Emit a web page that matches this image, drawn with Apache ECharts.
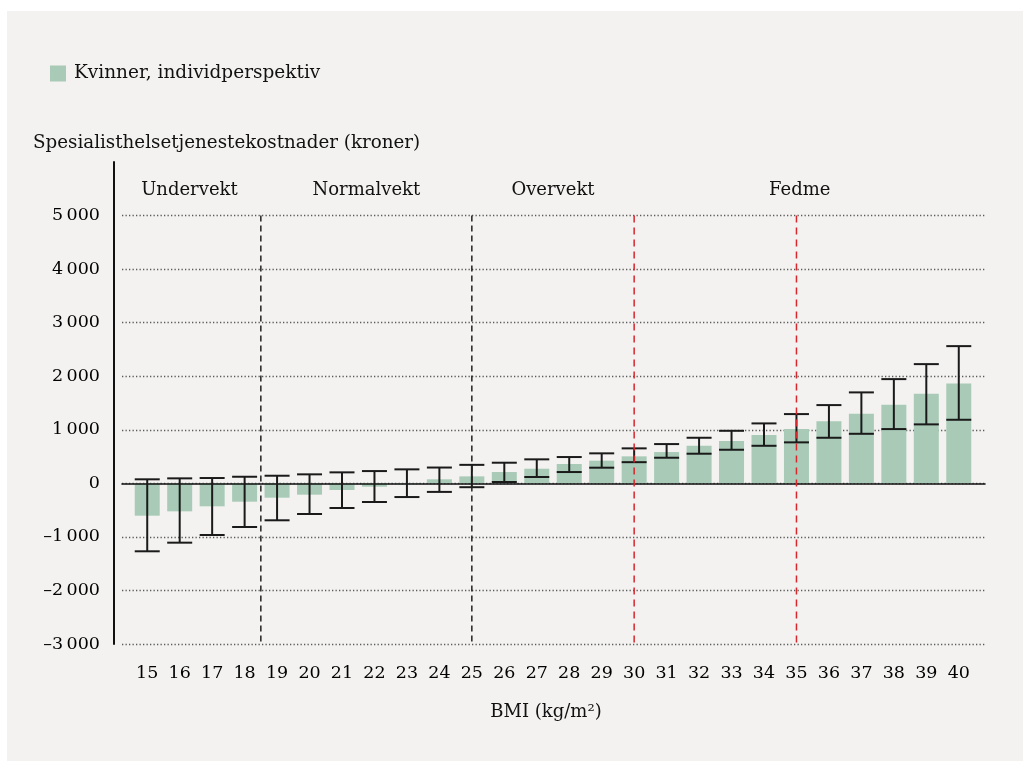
<!DOCTYPE html>
<html>
<head>
<meta charset="utf-8">
<script src="https://cdn.jsdelivr.net/npm/echarts@6/dist/echarts.min.js"></script>
<style>
html,body{margin:0;padding:0;background:#fff;}
#chart{width:1023px;height:762px;}
</style>
</head>
<body>
<div id="chart"></div>
<script>
// ---- data ----
var bmiCategories = ['15','16','17','18','19','20','21','22','23','24','25','26','27','28','29','30','31','32','33','34','35','36','37','38','39','40'];
var meanCost = [-604,-523,-429,-343,-268,-212,-125,-63,-15,75,130,211,273,361,423,504,584,701,789,901,1013,1157,1299,1467,1672,1866];
var lowerCI  = [-1269,-1108,-965,-815,-690,-573,-461,-349,-256,-160,-72,25,118,211,292,395,478,553,627,701,765,851,925,1013,1101,1187];
var upperCI  = [75,93,99,123,142,168,205,229,261,295,345,385,448,491,560,653,733,851,981,1119,1293,1461,1698,1946,2226,2562];
var yTicks = [-3000,-2000,-1000,0,1000,2000,3000,4000,5000];
var yTickLabels = ['\u20133\u2009000','\u20132\u2009000','\u20131\u2009000','0','1\u2009000','2\u2009000','3\u2009000','4\u2009000','5\u2009000'];
var dividerBmi = [18.5,25,30,35];
var regionNames = ['Undervekt','Normalvekt','Overvekt','Fedme'];
var regionCenters = [16.3,21.75,27.5,35.1];
var regionLabelY = 5470;
var seriesName = 'Kvinner, individperspektiv';
var yTitle = 'Spesialisthelsetjenestekostnader (kroner)';
var xTitle = 'BMI (kg/m\u00b2)';

var FONT = 'DejaVu Serif';
var TXT = '#111111';

var chart = echarts.init(document.getElementById('chart'));

var gridLineColors = yTicks.map(function(){return '#5a5a5a';}).concat(['rgba(0,0,0,0)']);

var option = {
  backgroundColor: '#ffffff',
  animation: false,
  graphic: [{
    type: 'rect', left: 7, top: 11, z: -100,
    shape: {width: 1016, height: 750},
    style: {fill: '#f3f2f0'}
  }],
  title: {
    text: yTitle, left: 33, top: 134, padding: 0,
    textStyle: {fontFamily: FONT, fontSize: 18.3, fontWeight: 'normal', color: TXT}
  },
  legend: {
    data: [seriesName], left: 50, top: 64, icon: 'rect', padding: 0,
    itemWidth: 16, itemHeight: 16,
    textStyle: {fontFamily: FONT, fontSize: 18.5, color: TXT, padding: [0,0,0,3]}
  },
  grid: [
    {left: 131, right: 48, top: 162, bottom: 118, containLabel: false},
    {left: 122, right: 38, top: 162, bottom: 118, containLabel: false}
  ],
  xAxis: [
    {
      type: 'category', gridIndex: 0, data: bmiCategories,
      axisLine: {show: false}, axisTick: {show: false},
      axisLabel: {margin: 20, fontFamily: FONT, fontSize: 17.5, color: '#000', interval: 0},
      name: xTitle, nameLocation: 'middle', nameGap: 59,
      nameTextStyle: {fontFamily: FONT, fontSize: 18, color: TXT, padding: [0,14,0,0]}
    },
    {
      type: 'value', gridIndex: 1, min: 0, max: 1, z: 3,
      axisLine: {show: true, onZero: true, lineStyle: {color: '#111', width: 1.6}},
      axisTick: {show: false}, axisLabel: {show: false}, splitLine: {show: false}
    },
    {
      type: 'value', gridIndex: 0, min: 14.5, max: 40.5, show: false
    }
  ],
  yAxis: [
    {
      type: 'value', gridIndex: 0, min: -3000, max: 6000, interval: 1000, offset: 17,
      axisLine: {show: true, lineStyle: {color: '#111', width: 2}},
      axisTick: {show: false}, splitLine: {show: false},
      axisLabel: {
        margin: 14, fontFamily: FONT, fontSize: 17.5, color: '#000',
        formatter: function(v){ var i = yTicks.indexOf(v); return i >= 0 ? yTickLabels[i] : ''; }
      }
    },
    {
      type: 'value', gridIndex: 1, min: -3000, max: 6000, interval: 1000,
      axisLine: {show: false}, axisTick: {show: false}, axisLabel: {show: false},
      splitLine: {show: true, lineStyle: {color: gridLineColors, width: 1.3, type: [1.3, 2.2]}}
    }
  ],
  series: [
    {
      name: seriesName, type: 'bar', xAxisIndex: 0, yAxisIndex: 0,
      data: meanCost, barWidth: 25,
      itemStyle: {color: '#a8cab6'}, z: 2
    },
    {
      name: 'ci', type: 'custom', xAxisIndex: 0, yAxisIndex: 0, z: 4,
      data: bmiCategories.map(function(c, i){ return [i, lowerCI[i], upperCI[i]]; }),
      encode: {x: 0, y: [1, 2]},
      renderItem: function(params, api){
        var x = api.value(0), lo = api.value(1), hi = api.value(2);
        var p1 = api.coord([x, hi]), p2 = api.coord([x, lo]);
        var hw = 12.5, st = {stroke: '#1a1a1a', lineWidth: 2};
        return {type: 'group', children: [
          {type: 'line', shape: {x1: p1[0], y1: p1[1], x2: p2[0], y2: p2[1]}, style: st},
          {type: 'line', shape: {x1: p1[0]-hw, y1: p1[1], x2: p1[0]+hw, y2: p1[1]}, style: st},
          {type: 'line', shape: {x1: p2[0]-hw, y1: p2[1], x2: p2[0]+hw, y2: p2[1]}, style: st}
        ]};
      }
    },
    {
      name: 'dividers', type: 'custom', xAxisIndex: 2, yAxisIndex: 0, z: 5,
      data: dividerBmi.map(function(b){ return [b]; }),
      renderItem: function(params, api){
        var b = api.value(0);
        var top = api.coord([b, 5000]), bot = api.coord([b, -3000]);
        var red = b >= 30;
        return {type: 'line', shape: {x1: top[0], y1: top[1], x2: bot[0], y2: bot[1]},
          style: {stroke: red ? '#d8262d' : '#222', lineWidth: 1.5, lineDash: red ? [7,5] : [6,4]}};
      }
    },
    {
      name: 'regions', type: 'custom', xAxisIndex: 2, yAxisIndex: 0, z: 5,
      data: regionCenters.map(function(c, i){ return [c, regionLabelY, i]; }),
      renderItem: function(params, api){
        var p = api.coord([api.value(0), api.value(1)]);
        return {type: 'text', x: p[0], y: p[1], style: {
          text: regionNames[params.dataIndex], textAlign: 'center', textVerticalAlign: 'middle',
          fontFamily: FONT, fontSize: 18, fill: TXT}};
      }
    }
  ]
};
chart.setOption(option);
</script>
</body>
</html>
